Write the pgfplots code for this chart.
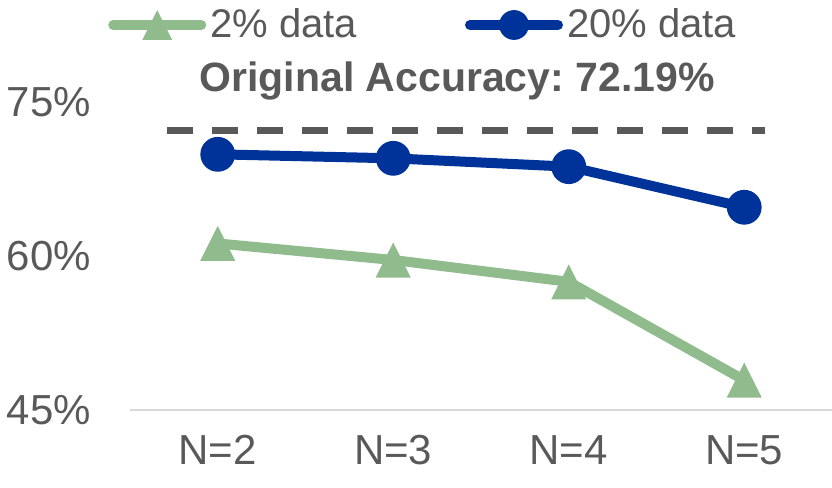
\documentclass[border=0pt]{standalone}
\usepackage{fontspec}
\setmainfont{Liberation Sans}
\usepackage{pgfplots}
\pgfplotsset{compat=1.18}
\definecolor{accblue}{RGB}{0,51,153}
\definecolor{accgreen}{RGB}{143,187,141}
\definecolor{txtgray}{RGB}{89,89,89}
\definecolor{axgray}{RGB}{217,217,217}

% isosceles triangle, as wide as it is tall
\pgfdeclareplotmark{isotri}{%
  \pgfpathmoveto{\pgfqpoint{0pt}{\pgfplotmarksize}}%
  \pgfpathlineto{\pgfqpoint{-\pgfplotmarksize}{-\pgfplotmarksize}}%
  \pgfpathlineto{\pgfqpoint{\pgfplotmarksize}{-\pgfplotmarksize}}%
  \pgfpathclose\pgfusepathqfill}

\begin{document}
\frenchspacing
\begin{tikzpicture}
\path[use as bounding box] (0,0) rectangle (416pt,244pt);
\begin{axis}[
  at={(65pt,38.75pt)}, anchor=south west,
  scale only axis,
  width=351pt, height=154.2pt,
  xmin=-0.5, xmax=3.5,
  ymin=45, ymax=75,
  clip=false,
  axis x line*=bottom, axis y line*=left,
  x axis line style={draw=axgray, line width=1pt, -},
  y axis line style={draw=none},
  xtick={0,1,2,3},
  xticklabels={N=2, N=3, N=4, N=5},
  ytick={45,60,75},
  yticklabel={\pgfmathprintnumber{\tick}\%},
  /pgf/number format/assume math mode=true,
  major tick length=0pt,
  tick style={draw=none},
  ticklabel style={font=\fontsize{21}{24}\selectfont, text=txtgray},
  xticklabel style={yshift=-9pt},
  yticklabel style={xshift=-16pt},
  legend columns=2,
  legend style={at={(0.419,1.25)}, anchor=center, draw=none, fill=none,
    font=\fontsize{20}{24}\selectfont, text=txtgray, inner sep=0pt,
    nodes={inner xsep=2pt},
    /tikz/every even column/.append style={column sep=52pt}},
  legend cell align=left,
  legend image code/.code={%
    \draw[mark repeat=2, mark phase=2, every mark/.append style={scale=0.85}]
      plot coordinates {(0pt,0pt) (22pt,0pt) (44pt,0pt)};},
]
\addplot[forget plot, draw=txtgray, line width=3.5pt, dash pattern=on 13pt off 9.5pt]
  coordinates {(-0.29,72.19) (3.12,72.19)};
\addplot[color=accgreen, line width=5pt, line cap=round, line join=round,
  mark=isotri, mark size=8.75pt, mark options={solid}]
  coordinates {(0,61.25) (1,59.64) (2,57.52) (3,47.95)};
\addlegendentry{2\% data}
\addplot[color=accblue, line width=5pt, line cap=round, line join=round,
  mark=*, mark size=8.4pt, mark options={solid, line width=0.6pt}]
  coordinates {(0,69.92) (1,69.53) (2,68.72) (3,64.77)};
\addlegendentry{20\% data}
\node[font=\bfseries\fontsize{20.5}{24}\selectfont, text=txtgray]
  at (axis description cs:0.466,1.07) {Original Accuracy: 72.19\%};
\end{axis}
\end{tikzpicture}
\end{document}
